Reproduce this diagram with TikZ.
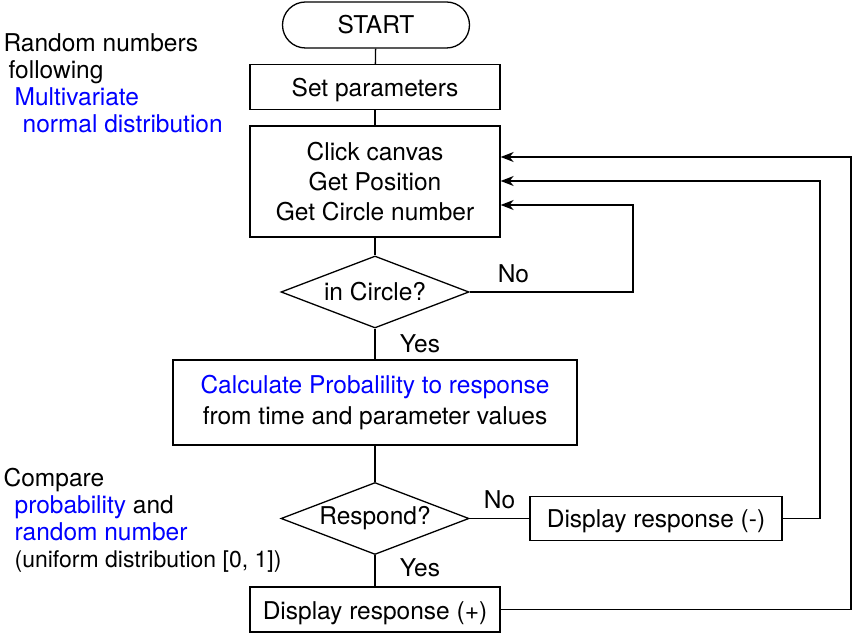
\documentclass[tikz,border=0pt]{standalone}
\usepackage{fontspec}
\setmainfont{TeX Gyre Heros}
\usepackage{tikz}
\definecolor{textblue}{HTML}{0000FF}
\usetikzlibrary{shapes.geometric, arrows.meta}
\tikzstyle{sblock} = [rectangle, draw, rounded corners=23pt, minimum width=187pt, minimum height=46pt]
\tikzstyle{pblock} = [rectangle, draw, align=center, minimum width=250pt, minimum height=45pt]
\tikzstyle{lblock} = [pblock, text height=24pt, text depth=5pt]
\tikzstyle{dblock} = [diamond, draw, aspect=2.6, minimum width=188pt, minimum height=72pt, inner sep=0pt]
\tikzstyle{note} = [anchor=base west, align=left, inner sep=0pt, font=\fontsize{24.5}{27.3}\selectfont]
\tikzstyle{arrow} = [-{Stealth[length=13pt,width=10pt,inset=4pt]}]

\begin{document}
\begin{tikzpicture}[x=1pt, y=1pt, line width=1.3pt, font=\fontsize{24.5}{30}\selectfont]
	\useasboundingbox (0,0) rectangle (852,635);
	\node (Start) [sblock] at (376,610) {START};
	\node (Set) [lblock, below of=Start, node distance=62pt, xshift=-1pt] {Set parameters};
	\node (Click) [pblock, below of=Set, node distance=94.5pt, minimum height=111pt] {Click canvas\\Get Position\\Get Circle number};
	\node (Circle) [dblock, below of=Click, node distance=110.5pt] {in Circle?};
	\node (Calc) [pblock, below of=Circle, node distance=110.5pt, minimum width=404pt, minimum height=85pt, font=\fontsize{24.5}{31}\selectfont] {\textcolor{textblue}{Calculate Probalility to response}\\from time and parameter values};
	\node (Respond) [dblock, below of=Calc, node distance=116pt] {Respond?};
	\node (Minus) [lblock, right of=Respond, node distance=281pt, minimum width=252pt, minimum height=44pt] {Display response (-)};
	\node (Plus) [lblock, below of=Respond, node distance=91pt] {Display response (+)};

	% side notes (anchored at the baseline of the last line)
	\node (Random) [note] at (3,502) {Random numbers\\\hspace*{5pt}following\\\hspace*{11pt}\textcolor{textblue}{Multivariate}\\\hspace*{19pt}\textcolor{textblue}{normal distribution}};
	\node (Compare) [note] at (3,67) {Compare\\\hspace*{11pt}\textcolor{textblue}{probability} and\\\hspace*{11pt}\textcolor{textblue}{random number}\\\hspace*{11pt}{\fontsize{23}{25}\selectfont(uniform distribution [0, 1])}};

	\coordinate (LoopIn) at (633,430);
	\coordinate (LoopMinus) at (820,454);
	\coordinate (LoopPlus) at (851,478);

	\draw (Start) -- (Set);
	\draw (Set) -- (Click);
	\draw (Click) -- (Circle);
	\draw (Circle) -- node[anchor=west, xshift=21pt] {Yes} (Calc);
	\draw (Calc) -- (Respond);
	\draw (Respond) -- node[anchor=west, xshift=21pt, yshift=3pt] {Yes} (Plus);
	\draw (Respond) -- node[anchor=south, yshift=6pt] {No} (Minus);
	\draw [arrow] (Circle.east) -| node[anchor=south, pos=0.134, yshift=5pt] {No} (LoopIn) -- (Click.east |- LoopIn);
	\draw [arrow] (Minus.east) -| (LoopMinus) -- (Click.east |- LoopMinus);
	\draw [arrow] (Plus.east) -| (LoopPlus) -- (Click.east |- LoopPlus);
\end{tikzpicture}
\end{document}
